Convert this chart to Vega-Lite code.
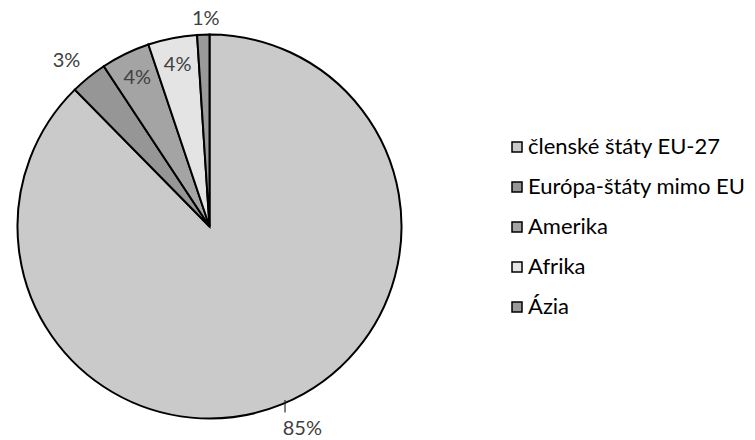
{
  "$schema": "https://vega.github.io/schema/vega-lite/v6.json",
  "width": 419,
  "height": 453,
  "padding": 0,
  "autosize": {"type": "pad"},
  "background": "white",
  "config": {"view": {"stroke": null}},
  "data": {
    "values": [
      {"region": "členské štáty EU-27", "share": 85, "ord": 1, "label": "85%"},
      {"region": "Európa-štáty mimo EU", "share": 3, "ord": 2, "label": "3%"},
      {"region": "Amerika", "share": 4, "ord": 3, "label": "4%"},
      {"region": "Afrika", "share": 4, "ord": 4, "label": "4%"},
      {"region": "Ázia", "share": 1, "ord": 5, "label": "1%"}
    ]
  },
  "encoding": {
    "theta": {"field": "share", "type": "quantitative", "stack": true},
    "order": {"field": "ord", "type": "ordinal"}
  },
  "layer": [
    {
      "mark": {"type": "arc", "outerRadius": 192, "stroke": "black", "strokeWidth": 2},
      "encoding": {
        "fill": {
          "field": "region",
          "type": "nominal",
          "sort": ["členské štáty EU-27", "Európa-štáty mimo EU", "Amerika", "Afrika", "Ázia"],
          "scale": {
            "domain": ["členské štáty EU-27", "Európa-štáty mimo EU", "Amerika", "Afrika", "Ázia"],
            "range": ["#cacaca", "#969696", "#a4a4a4", "#e4e4e4", "#9a9a9a"]
          },
          "legend": {
            "title": null,
            "orient": "none",
            "legendX": 506,
            "legendY": 136,
            "padding": 0,
            "symbolType": "square",
            "symbolSize": 100,
            "symbolStrokeColor": "black",
            "symbolStrokeWidth": 1.5,
            "labelFont": "Lato",
            "labelFontSize": 22,
            "labelColor": "black",
            "labelLimit": 0,
            "labelOffset": 0,
            "rowPadding": 18
          }
        }
      }
    },
    {
      "mark": {"type": "text", "radius": 165, "font": "Lato", "fontSize": 20, "color": "#404040", "align": "center", "baseline": "middle"},
      "encoding": {
        "text": {"condition": {"test": "datum.region === 'Amerika' || datum.region === 'Afrika'", "field": "label"}, "value": ""}
      }
    },
    {
      "mark": {"type": "text", "radius": 213, "dx": -9, "font": "Lato", "fontSize": 20, "color": "#404040", "align": "center", "baseline": "middle"},
      "encoding": {
        "text": {"condition": {"test": "datum.region === 'Európa-štáty mimo EU'", "field": "label"}, "value": ""}
      }
    },
    {
      "mark": {"type": "text", "radius": 208, "dx": 3, "font": "Lato", "fontSize": 20, "color": "#404040", "align": "center", "baseline": "middle"},
      "encoding": {
        "text": {"condition": {"test": "datum.region === 'Ázia'", "field": "label"}, "value": ""}
      }
    },
    {
      "mark": {"type": "text", "radius": 216, "dx": 11, "dy": 3, "font": "Lato", "fontSize": 20, "color": "#404040", "align": "center", "baseline": "middle"},
      "encoding": {
        "text": {"condition": {"test": "datum.region === 'členské štáty EU-27'", "field": "label"}, "value": ""}
      }
    },
    {
      "mark": {"type": "text", "radius": 194, "dx": 2, "font": "DejaVu Sans", "fontSize": 13, "color": "#222222", "align": "center", "baseline": "middle"},
      "encoding": {
        "text": {"condition": {"test": "datum.region === 'členské štáty EU-27'", "value": "|"}, "value": ""}
      }
    }
  ]
}
